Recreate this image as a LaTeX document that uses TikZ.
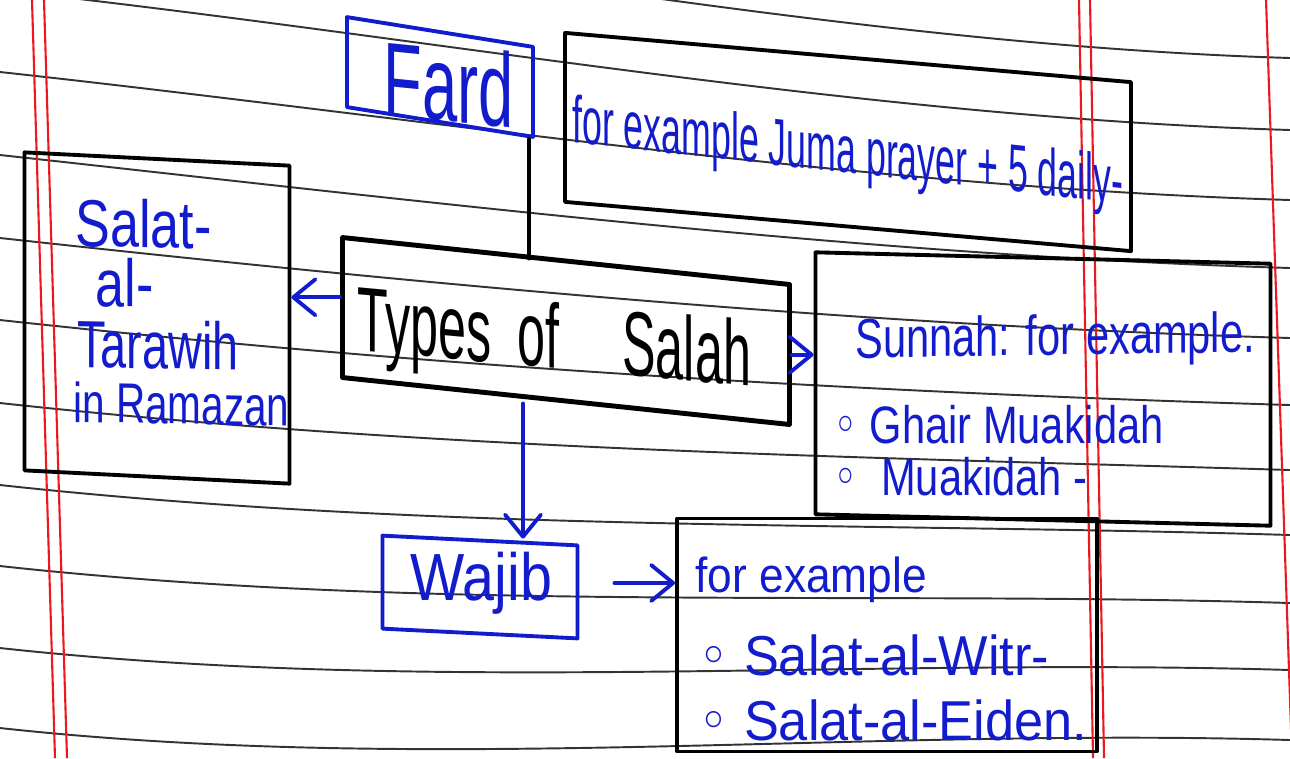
\documentclass[tikz,border=0pt]{standalone}
\usepackage{fontspec}
\setmainfont{Liberation Sans}
\newfontfamily\symfont{DejaVu Sans}
\usetikzlibrary{arrows.meta,calc}
\definecolor{ink}{RGB}{18,28,205}
\definecolor{margin}{RGB}{235,25,30}
\newcommand{\handsize}[1]{\fontsize{#1}{#1}\selectfont}

\begin{document}
\begin{tikzpicture}[x=0.1mm,y=0.1mm,
	pen/.style={line width=1.1pt,line cap=round,line join=round},
	box/.style={draw,pen,inner sep=0pt},
	inkbox/.style={box,draw=ink},
	hand/.style={text=ink,inner sep=0pt,anchor=base west},
	arr/.style={pen,draw=ink,-{Straight Barb[length=2.2mm,width=3.6mm,round]}}]
	\useasboundingbox (0,0) rectangle (1290,-758);
	\fill[white] (0,0) rectangle (1290,-758);
	% ruled paper and margins
	\foreach \l/\r in {90/-58,10/-130,-72/-200,-155/-268,-238/-338,-320/-405,-403/-470,-485/-535,-566/-603,-648/-670,-728/-740}
		\draw[black!80,line width=0.55pt] (0,\l) .. controls (430,\l-47) and (860,\r+13) .. (1290,\r);
	\draw[margin,line width=0.6pt] (32,0) -- (55,-758);
	\draw[margin,line width=0.6pt] (44,0) -- (67,-758);
	\draw[margin,line width=0.6pt] (1079,0) -- (1093,-758);
	\draw[margin,line width=0.6pt] (1090,0) -- (1104,-758);
	\draw[margin,line width=0.6pt] (1266,0) -- (1292,-758);
	% boxes
	\node[inkbox,yslant=-0.16,minimum width=18.6mm,minimum height=9mm] (fardbox) at (440,-77) {};
	\node[box,yslant=-0.087,minimum width=56.6mm,minimum height=16.9mm] (exbox) at (848,-142) {};
	\node[box,line width=1.4pt,yslant=-0.105,minimum width=44.7mm,minimum height=14mm] (typesbox) at (566,-331) {};
	\node[box,yslant=-0.05,minimum width=26.5mm,minimum height=31.8mm] (tarawihbox) at (157,-318) {};
	\node[box,yslant=-0.025,minimum width=45.5mm,minimum height=26.2mm] (sunnahbox) at (1043,-389) {};
	\node[inkbox,yslant=-0.05,minimum width=19.5mm,minimum height=9.3mm] (wajibbox) at (480,-587) {};
	\node[box,minimum width=42mm,minimum height=23.3mm] (wajibexbox) at (887,-635) {};
	% texts
	\node[hand,font=\handsize{30},yslant=-0.1,xscale=0.6] (fard) at (383,-115) {Fard};
	\node[hand,font=\handsize{19},yslant=-0.112,xscale=0.535] (fardex) at (572,-142) {for example Juma prayer + 5 daily-};
	\node[hand,text=black,font=\handsize{26},yslant=-0.092,xscale=0.55] (types) at (357,-350) {Types\hspace{4.7mm}of\hspace{11.5mm}Salah};
	\node[hand,font=\handsize{19},yslant=-0.02,xscale=0.78] (salat) at (75,-246) {Salat-};
	\node[hand,font=\handsize{19},yslant=-0.02,xscale=0.78] (al) at (95,-306) {al-};
	\node[hand,font=\handsize{19},yslant=-0.02,xscale=0.7] (tarawih) at (77,-367) {Tarawih};
	\node[hand,font=\handsize{16},yslant=-0.02,xscale=0.72] (ramazan) at (73,-422) {in Ramazan};
	\node[hand,font=\handsize{16},yslant=0.015,xscale=0.74] (sunnah) at (855,-358) {Sunnah: for example.};
	\node[hand,font=\handsize{15},xscale=0.79] (ghair) at (833,-443) {{\symfont ◦}\ Ghair Muakidah};
	\node[hand,font=\handsize{15},xscale=0.79] (muakidah) at (833,-495) {{\symfont ◦}\ \ Muakidah\ -};
	\node[hand,font=\handsize{19},xscale=0.86] (wajib) at (410,-600) {Wajib};
	\node[hand,font=\handsize{14},xscale=0.9] (forex) at (695,-592) {for example};
	\node[hand,font=\handsize{16},xscale=0.93] (witr) at (698,-675) {{\symfont ◦}\ Salat-al-Witr-};
	\node[hand,font=\handsize{16},xscale=0.93] (eiden) at (698,-740) {{\symfont ◦}\ Salat-al-Eiden.};
	% connectors
	\coordinate (fardout) at ([xshift=-0.6mm]fardbox.south east);
	\draw[pen] (fardout) -- (fardout |- typesbox.north);
	\coordinate (typesleft) at ([yshift=1mm]typesbox.west);
	\draw[arr] (typesleft) -- (typesleft -| tarawihbox.east);
	\draw[arr] (typesbox.east) -- (typesbox.east -| sunnahbox.west);
	\coordinate (typesdown) at ([xshift=-4.3mm]typesbox.south);
	\draw[arr] (typesdown) -- (typesdown |- wajibbox.north);
	\coordinate (wajibout) at ([xshift=3.5mm,yshift=0.9mm]wajibbox.east);
	\draw[arr] (wajibout) -- (wajibout -| wajibexbox.west);
\end{tikzpicture}
\end{document}
